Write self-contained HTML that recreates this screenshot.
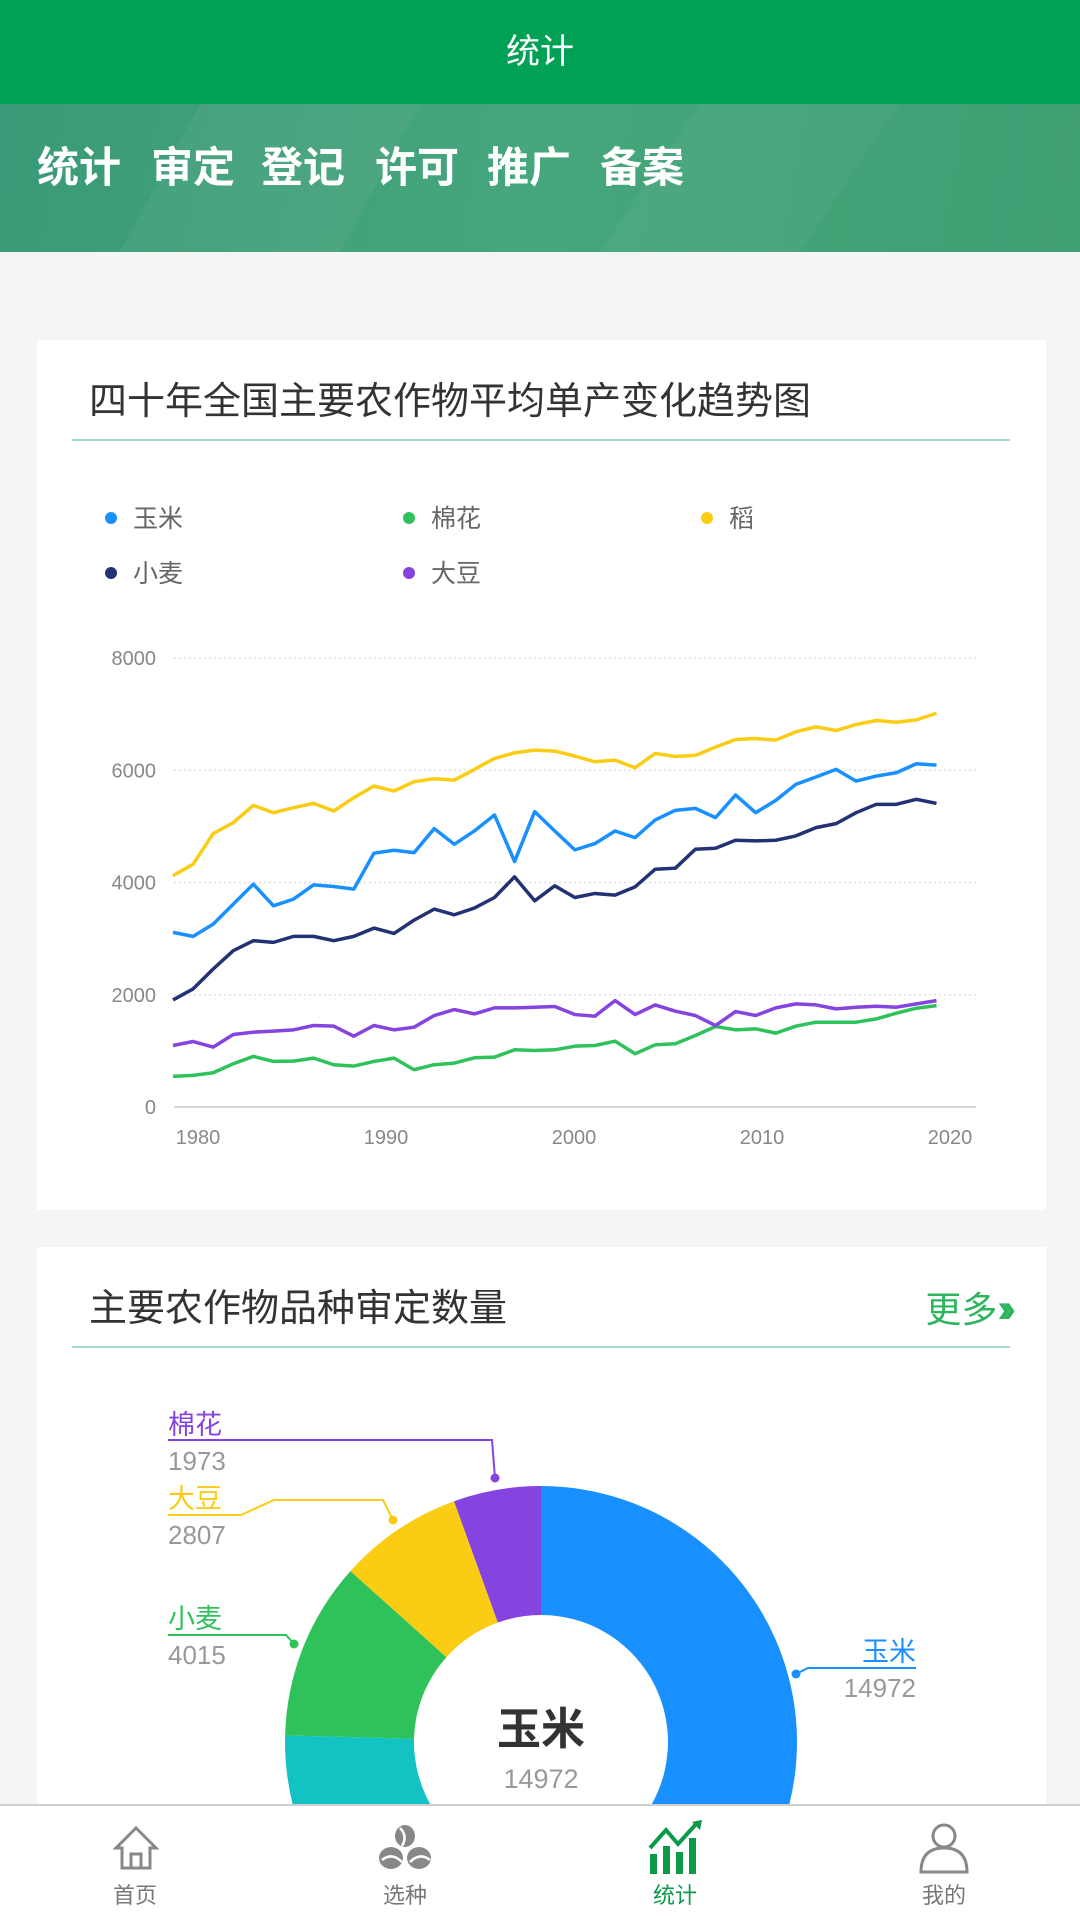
<!DOCTYPE html>
<html><head><meta charset="utf-8"><style>
html{overflow:hidden;height:1920px}
body{margin:0;width:1080px;height:1920px;overflow:hidden;background:#f5f5f5;font-family:"Liberation Sans","Noto Sans CJK SC",sans-serif;position:relative}
.abs{position:absolute}
#hdr{left:0;top:0;width:1080px;height:104px;background:#00a055;color:#fff;font-size:34px;text-align:center;line-height:104px}
#banner{left:0;top:104px;width:1080px;height:148px;background:linear-gradient(100deg,#3a9a77 0%,#46a67c 50%,#3f9e72 100%);overflow:hidden}
.tab{position:absolute;top:34px;color:#fff;font-size:42px;font-weight:bold;line-height:60px}
.card{position:absolute;left:37px;width:1009px;background:#fff}
.ctitle{position:absolute;left:52px;font-size:38px;color:#333;line-height:50px}
.divider{position:absolute;left:35px;width:938px;height:2px;background:#a7dcc6}
#nav{left:0;top:1804px;width:1080px;height:116px;background:#fff;border-top:2px solid #cfcfcf;box-sizing:border-box}
.nv{position:absolute;width:120px;text-align:center;font-size:22px;color:#777}
</style></head><body>
<div id="hdr" class="abs">统计</div>
<div id="banner" class="abs">
<svg class="abs" style="left:0;top:0" width="1080" height="148"><polygon points="120,148 200,0 420,0 340,148" fill="#ffffff" opacity="0.05"/><polygon points="600,148 700,0 900,0 800,148" fill="#ffffff" opacity="0.04"/></svg>
<div class="tab" style="left:37px">统计</div>
<div class="tab" style="left:151px">审定</div>
<div class="tab" style="left:261px">登记</div>
<div class="tab" style="left:375px">许可</div>
<div class="tab" style="left:487px">推广</div>
<div class="tab" style="left:600px">备案</div>
</div>

<div class="card" style="top:340px;height:870px">
<div class="ctitle" style="top:37px">四十年全国主要农作物平均单产变化趋势图</div>
<div class="divider" style="top:99px"></div>
</div>
<svg id="lc" class="abs" style="left:0;top:0" width="1080" height="1220"></svg>

<div class="card" style="top:1247px;height:557px">
<div class="ctitle" style="top:37px">主要农作物品种审定数量</div>
<div class="abs" style="right:38px;top:37px;font-size:36px;color:#2db55d;line-height:50px">更多<span style="font-weight:bold;font-size:40px;letter-spacing:-8px">››</span></div>
<div class="divider" style="top:99px"></div>
</div>
<svg id="pc" class="abs" style="left:0;top:1247px" width="1080" height="557"></svg>

<div id="nav" class="abs">
<svg class="abs" style="left:112px;top:18px" width="48" height="48"><path d="M24 4 L44 24 L38 24 L38 44 L10 44 L10 24 L4 24 Z" fill="none" stroke="#888" stroke-width="3"/><path d="M19 44 V30 H29 V44" fill="none" stroke="#888" stroke-width="3"/></svg>
<div class="nv" style="left:75px;top:72px">首页</div>
<svg class="abs" style="left:378px;top:18px" width="54" height="48"><ellipse cx="27" cy="12" rx="10" ry="11" fill="#888"/><ellipse cx="13" cy="34" rx="12" ry="11" fill="#888"/><ellipse cx="41" cy="34" rx="12" ry="11" fill="#888"/><path d="M22 4 Q30 12 24 22 M4 36 Q14 28 24 38 M32 38 Q42 28 52 36" stroke="#fff" stroke-width="2.5" fill="none"/></svg>
<div class="nv" style="left:345px;top:72px">选种</div>
<svg class="abs" style="left:648px;top:14px" width="56" height="54"><g fill="#0a9a4a"><rect x="2" y="34" width="7" height="20"/><rect x="15" y="26" width="7" height="28"/><rect x="28" y="32" width="7" height="22"/><rect x="41" y="18" width="7" height="36"/></g><path d="M2 28 L18 10 L30 24 L50 2" stroke="#0a9a4a" stroke-width="4" fill="none"/><polygon points="54,0 44,2 52,10" fill="#0a9a4a"/></svg>
<div class="nv" style="left:615px;top:72px;color:#0a9a4a">统计</div>
<svg class="abs" style="left:918px;top:16px" width="52" height="52"><circle cx="26" cy="14" r="11" fill="none" stroke="#888" stroke-width="3"/><path d="M3 50 Q3 26 26 26 Q49 26 49 50 Z" fill="none" stroke="#888" stroke-width="3"/></svg>
<div class="nv" style="left:884px;top:72px">我的</div>
</div>

<script>
const NS='http://www.w3.org/2000/svg';
function mk(p,t,a){const e=document.createElementNS(NS,t);for(const k in a)e.setAttribute(k,a[k]);p.appendChild(e);return e;}
const seriesNames=['玉米','棉花','稻','小麦','大豆'];
const seriesColors=['#1890ff','#2fc25b','#facc14','#223273','#8543e0'];
const corn=[3111,3040,3259,3615,3970,3585,3704,3958,3929,3882,4522,4575,4533,4960,4681,4918,5203,4373,5262,4918,4581,4693,4918,4800,5114,5286,5321,5156,5559,5244,5464,5748,5879,6015,5807,5896,5956,6116,6092];
const cotton=[545,563,610,770,901,812,818,871,753,729,812,871,664,753,782,877,889,1019,1007,1019,1084,1096,1173,948,1108,1126,1274,1434,1375,1393,1316,1440,1511,1511,1511,1570,1671,1760,1807];
const rice=[4120,4326,4871,5067,5375,5244,5333,5410,5274,5511,5719,5630,5796,5849,5825,6015,6210,6311,6359,6341,6252,6151,6181,6045,6299,6246,6264,6412,6548,6566,6536,6685,6773,6708,6815,6886,6856,6898,7016];
const wheat=[1908,2104,2459,2785,2963,2933,3040,3040,2963,3040,3188,3093,3330,3526,3425,3544,3733,4101,3674,3941,3733,3805,3775,3923,4237,4255,4593,4611,4753,4741,4753,4830,4978,5049,5244,5393,5393,5482,5410];
const soybean=[1096,1167,1067,1292,1333,1351,1375,1452,1440,1262,1452,1375,1422,1630,1736,1659,1766,1766,1778,1790,1647,1618,1896,1647,1819,1707,1630,1452,1701,1630,1766,1837,1819,1748,1778,1796,1778,1837,1896];
const yTicks=[0,2000,4000,6000,8000];
const xTickLabels=[1980,1990,2000,2010,2020];
const pieNames=['玉米','马铃薯','稻','小麦','大豆','棉花'];
const pieValues=[14972,5000,7000,4015,2807,1973];
const pieColors=['#1890ff','#f04864','#13c2c2','#2fc25b','#facc14','#8543e0'];

const lc=document.getElementById('lc');
const y=v=>1107-v/8000*449;
const xi=i=>173+i*(763.5/(corn.length-1));
const xt=t=>198+(t-1980)*18.8;
const legPos=[[111,518],[409,518],[707,518],[111,573],[409,573]];
seriesNames.forEach((n,i)=>{
  const g=mk(lc,'g',{});
  
  
  mk(g,'circle',{cx:legPos[i][0],cy:legPos[i][1],r:6,fill:seriesColors[i]});
  const t=mk(g,'text',{x:legPos[i][0]+22,y:legPos[i][1]+9,'font-size':25,fill:'#666'});t.textContent=n;
});
yTicks.forEach(v=>{
  const l=mk(lc,'line',{x1:174,x2:976,y1:y(v),y2:y(v),stroke:v?'#e0e0e0':'#d9d9d9','stroke-width':v?1.5:2,'stroke-dasharray':v?'2,3':''});
  
  
  const t=mk(lc,'text',{x:156,y:y(v)+7,'font-size':20,fill:'#888','text-anchor':'end'});t.textContent=v;
  
  
});
xTickLabels.forEach(v=>{
  const t=mk(lc,'text',{x:xt(v),y:1144,'font-size':20,fill:'#888','text-anchor':'middle'});t.textContent=v;
  
  
});
[cotton,soybean,wheat,corn,rice].forEach((d,k)=>{
  const idx=[1,4,3,0,2][k];
  const p=mk(lc,'polyline',{points:d.map((v,i)=>xi(i)+','+y(v)).join(' '),fill:'none',stroke:seriesColors[idx],'stroke-width':3.5,'stroke-linejoin':'round'});
  
  
});

const pc=document.getElementById('pc');
const cx=541,cy=1742-1247,R=256,r=127;
const tot=pieValues.reduce((a,b)=>a+b,0);
let a0=0;
function pt(a,rad){return [cx+rad*Math.sin(a),cy-rad*Math.cos(a)];}
pieValues.forEach((v,i)=>{
  const a1=a0+v/tot*2*Math.PI;
  const [x1,y1]=pt(a0,R),[x2,y2]=pt(a1,R),[x3,y3]=pt(a1,r),[x4,y4]=pt(a0,r);
  const lg=(a1-a0)>Math.PI?1:0;
  const p=mk(pc,'path',{d:`M${x1},${y1} A${R},${R} 0 ${lg} 1 ${x2},${y2} L${x3},${y3} A${r},${r} 0 ${lg} 0 ${x4},${y4} Z`,fill:pieColors[i]});
  
  
  a0=a1;
});
const ct=mk(pc,'text',{x:cx,y:1744-1247,'font-size':44,'font-weight':'bold',fill:'#333','text-anchor':'middle'});ct.textContent=pieNames[0];


const cv=mk(pc,'text',{x:cx,y:1788-1247,'font-size':27,fill:'#999','text-anchor':'middle'});cv.textContent=pieValues[0];


const o=1247;
const labs=[
 [5,1434,[[168,1440],[492,1440],[495,1478]],168,'start'],
 [4,1508,[[168,1515],[241,1515],[274,1500],[383,1500],[393,1520]],168,'start'],
 [3,1628,[[168,1635],[286,1635],[294,1644]],168,'start'],
 [0,1661,[[916,1668],[808,1668],[796,1674]],916,'end']
];
labs.forEach(L=>{
  const [i,ty,pts,ax,anc]=L;
  const g=mk(pc,'g',{});
  
  
  mk(g,'polyline',{points:pts.map(p=>p[0]+','+(p[1]-o)).join(' '),fill:'none',stroke:pieColors[i],'stroke-width':2});
  const d=pts[pts.length-1];
  mk(g,'circle',{cx:d[0],cy:d[1]-o,r:4.5,fill:pieColors[i]});
  const t=mk(g,'text',{x:ax,y:ty-o,'font-size':27,fill:pieColors[i],'text-anchor':anc});t.textContent=pieNames[i];
  const t2=mk(g,'text',{x:ax,y:ty-o+36,'font-size':26,fill:'#999','text-anchor':anc});t2.textContent=pieValues[i];
});
</script>
</body></html>
